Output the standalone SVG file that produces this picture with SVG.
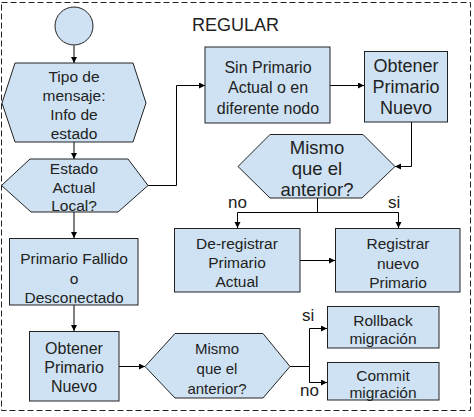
<svg xmlns="http://www.w3.org/2000/svg" width="474" height="417" viewBox="0 0 474 417">
<defs>
<marker id="ah" markerUnits="userSpaceOnUse" markerWidth="8" markerHeight="8" refX="6" refY="3" orient="auto">
<path d="M0,0 L6,3 L0,6 z" fill="#000"/>
</marker>
<style>
.n{fill:#cfe2f3;stroke:#222;stroke-width:1}
.t{font-family:"Liberation Sans",Arial,sans-serif;fill:#222;text-anchor:middle}
.c{fill:none;stroke:#000;stroke-width:1}
.a{marker-end:url(#ah)}
.l{font-family:"Liberation Sans",Arial,sans-serif;fill:#222;font-size:17px}
</style>
</defs>
<rect width="474" height="417" fill="#fff"/>
<rect x="1.5" y="2.5" width="469" height="408" fill="none" stroke="#222" stroke-dasharray="6,3"/>
<text x="192" y="31" font-family="Liberation Sans, Arial, sans-serif" font-size="18" fill="#222">REGULAR</text>

<g id="connectors">
<path class="c a" d="M74,45.5 V63"/>
<path class="c a" d="M74,142 V159"/>
<path class="c a" d="M148,185.5 H176.5 V85.5 H205"/>
<path class="c a" d="M330,85.5 H364"/>
<path class="c a" d="M411.5,122 V166.5 H395"/>
<path class="c" d="M317.5,198 V212.5 M237.5,212.5 H398.5"/>
<path class="c a" d="M237.5,212.5 V228"/>
<path class="c a" d="M398.5,212.5 V228"/>
<path class="c a" d="M300,260.5 H335"/>
<path class="c a" d="M74,212 V238"/>
<path class="c a" d="M74,305 V331"/>
<path class="c a" d="M119,366.5 H145"/>
<path class="c" d="M290,366.5 H309.5 M309.5,328.5 V382.5"/>
<path class="c a" d="M309.5,328.5 H327"/>
<path class="c a" d="M309.5,382.5 H327"/>
<text class="l" x="228" y="208">no</text>
<text class="l" x="388" y="208">si</text>
<text class="l" x="302" y="321">si</text>
<text class="l" x="300" y="396">no</text>
</g>

<g id="start">
<circle class="n" cx="74" cy="26" r="19"/>
</g>

<g id="tipo">
<polygon class="n" points="15,63 133,63 146,103 133,142 15,142 2,103"/>
<text class="t" font-size="15.5"><tspan x="74" y="82">Tipo de</tspan><tspan x="74" y="101">mensaje:</tspan><tspan x="74" y="120">Info de</tspan><tspan x="74" y="138.5">estado</tspan></text>
</g>

<g id="estado">
<polygon class="n" points="30,159 128,159 148,185.5 118,212 31,212 1.5,185.5"/>
<text class="t" font-size="15.5"><tspan x="74" y="173.5">Estado</tspan><tspan x="74" y="192.5">Actual</tspan><tspan x="74" y="211">Local?</tspan></text>
</g>

<g id="sinprimario">
<rect class="n" x="205" y="47" width="125" height="76"/>
<text class="t" font-size="16"><tspan x="268" y="72.5">Sin Primario</tspan><tspan x="268" y="93">Actual o en</tspan><tspan x="268" y="113.5">diferente nodo</tspan></text>
</g>

<g id="obtener1">
<rect class="n" x="364.5" y="51.5" width="83" height="70.5"/>
<text class="t" font-size="18"><tspan x="406" y="71.5">Obtener</tspan><tspan x="406" y="92.5">Primario</tspan><tspan x="406" y="113.5">Nuevo</tspan></text>
</g>

<g id="mismo1">
<polygon class="n" points="270,134.5 363,134.5 395,166.5 362,198 270,198 238,166.5"/>
<text class="t" font-size="18.5"><tspan x="317" y="153.5">Mismo</tspan><tspan x="317" y="174.5">que el</tspan><tspan x="317" y="195.5">anterior?</tspan></text>
</g>

<g id="deregistrar">
<rect class="n" x="174.5" y="228.5" width="125.5" height="63.5"/>
<text class="t" font-size="15.5"><tspan x="237" y="248.5">De-registrar</tspan><tspan x="237" y="267.5">Primario</tspan><tspan x="237" y="286.5">Actual</tspan></text>
</g>

<g id="registrar">
<rect class="n" x="335.5" y="228.5" width="124.5" height="63.5"/>
<text class="t" font-size="15.5"><tspan x="398" y="249">Registrar</tspan><tspan x="398" y="268.5">nuevo</tspan><tspan x="398" y="288">Primario</tspan></text>
</g>

<g id="fallido">
<rect class="n" x="9.5" y="238.5" width="128.5" height="66.5"/>
<text class="t" font-size="15.5"><tspan x="74" y="263.5">Primario Fallido</tspan><tspan x="74" y="283.5">o</tspan><tspan x="74" y="302.5">Desconectado</tspan></text>
</g>

<g id="obtener2">
<rect class="n" x="29.5" y="331.5" width="89.5" height="69.5"/>
<text class="t" font-size="16"><tspan x="74" y="354">Obtener</tspan><tspan x="74" y="373">Primario</tspan><tspan x="74" y="391.5">Nuevo</tspan></text>
</g>

<g id="mismo2">
<polygon class="n" points="175,333.5 263,333.5 290,366.5 263,398 175,398 145,366.5"/>
<text class="t" font-size="15"><tspan x="217" y="353.5">Mismo</tspan><tspan x="217" y="373.5">que el</tspan><tspan x="217" y="394">anterior?</tspan></text>
</g>

<g id="rollback">
<rect class="n" x="327.5" y="306.5" width="111.5" height="41.5"/>
<text class="t" font-size="15.5"><tspan x="383" y="325.5">Rollback</tspan><tspan x="383" y="343.5">migración</tspan></text>
</g>

<g id="commit">
<rect class="n" x="327.5" y="362.5" width="111.5" height="37.5"/>
<text class="t" font-size="15.5"><tspan x="383" y="380.5">Commit</tspan><tspan x="383" y="397.5">migración</tspan></text>
</g>
</svg>
